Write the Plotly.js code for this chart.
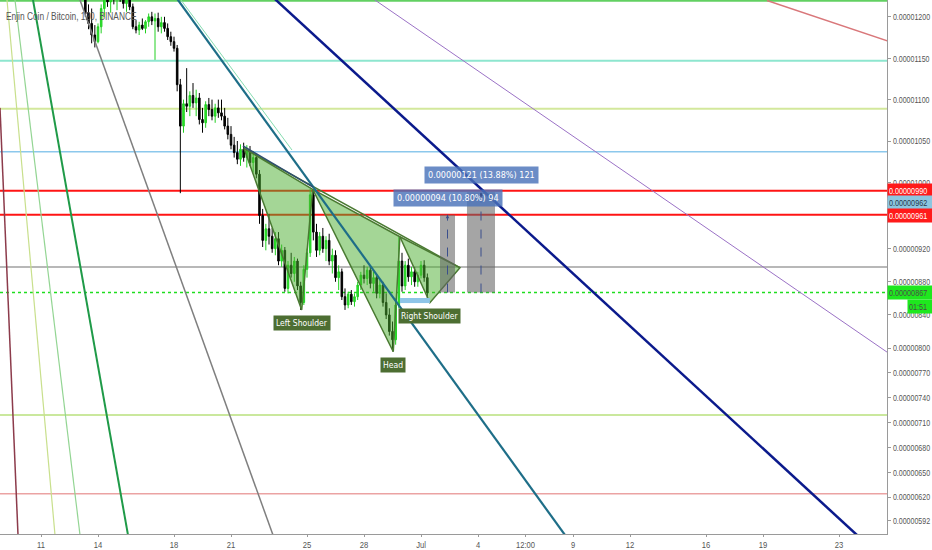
<!DOCTYPE html>
<html><head><meta charset="utf-8">
<script src="https://cdn.plot.ly/plotly-3.0.1.min.js"></script>
<style>html,body{margin:0;padding:0;background:#fff}#chart{width:932px;height:550px}</style>
</head><body><div id="chart"></div>
<script>
// ---------- DATA (prices in satoshi = 1e-8 BTC, x in day-of-June 2018) ----------
const SAT = 1e-8;
const barStartDay = 13 + 1/3;   // first visible 4h bar
const barStepDay = 1/6;         // 4h bars

const openP  = [1225,1205,1192,1178,1170,1188,1210,1225,1218,1228,1222,1230,1224,1216,1226,1212,1188,1184,1190,1186,1194,1200,1195,1198,1188,1193,1186,1176,1170,1162,1118,1068,1095,1092,1105,1096,1102,1076,1072,1094,1088,1080,1090,1084,1080,1068,1058,1045,1036,1028,1040,1030,1038,1024,1030,1010,960,930,944,935,920,932,905,918,872,900,890,905,875,855,895,915,985,940,918,935,920,930,905,912,885,892,862,852,865,856,862,876,888,884,894,878,885,866,876,855,840,820,810,852,905,875,900,886,892,880,888,900,885];
const highP  = [1235,1215,1210,1190,1192,1215,1235,1240,1232,1245,1236,1242,1238,1232,1235,1216,1196,1194,1198,1196,1204,1206,1204,1205,1200,1200,1192,1182,1176,1166,1125,1100,1138,1110,1120,1112,1108,1090,1098,1102,1100,1095,1100,1100,1090,1078,1068,1055,1050,1046,1048,1045,1044,1038,1034,1015,968,950,962,945,940,940,925,922,905,915,910,908,880,900,920,992,990,950,940,945,935,938,920,918,900,896,872,868,870,866,880,892,900,898,900,892,888,882,880,866,848,832,860,934,915,905,908,898,898,892,905,906,890];
const lowP   = [1200,1185,1168,1163,1168,1180,1200,1212,1205,1215,1208,1218,1210,1206,1208,1185,1180,1178,1184,1180,1188,1190,1148,1182,1180,1182,1172,1165,1158,1110,987,1060,1085,1080,1090,1080,1070,1060,1066,1080,1075,1072,1078,1075,1064,1052,1040,1030,1022,1020,1025,1018,1020,1012,1005,950,922,918,925,915,912,900,898,868,866,885,880,870,846,852,885,910,930,910,912,915,905,900,890,880,870,858,846,848,852,850,858,870,878,876,872,868,860,860,850,835,815,796,804,848,868,870,880,876,874,874,884,880,860];
const closeP = [1205,1192,1178,1170,1188,1210,1225,1218,1228,1222,1230,1224,1216,1226,1212,1188,1184,1190,1186,1194,1200,1195,1198,1188,1193,1186,1176,1170,1162,1118,1068,1095,1092,1105,1096,1102,1076,1072,1094,1088,1080,1090,1084,1080,1068,1058,1045,1036,1028,1040,1030,1038,1024,1030,1010,960,930,944,935,920,932,905,918,872,900,890,905,875,855,895,915,985,940,918,935,920,930,905,912,885,892,862,852,865,856,862,876,888,884,894,878,885,866,876,855,840,820,810,852,905,875,900,886,892,880,888,900,885,867];

// horizontal levels (satoshi)
const hLevels = [1219.5, 1147, 1089, 1037, 990, 961, 898, 867, 719, 624];

// trend lines: start/end (day, satoshi)
const lineNames = ['maroon','yellowgreen','lightgreen','darkgreen','gray','teal','navy','purple','salmon','mint','slate'];
const lineX0 = [8.842, 9.182, 9.593, 10.523, 12.939, 17.982, 23.026, 28.12, 49.21, 18.135, 21.63];
const lineY0 = [1090.0, 1227.5, 1227.5, 1227.5, 1227.5, 1227.5, 1227.5, 1227.5, 1219.7, 1227.5, 1044.0];
const lineX1 = [9.803, 11.765, 13.091, 15.635, 23.324, 38.808, 54.290, 55.684, 55.684, 24.21, 25.32];
const lineY1 = [566.9, 566.9, 566.9, 566.9, 566.9, 566.9, 566.9, 792.6, 1169.8, 1039.1, 994.4];

// inverse head & shoulders pattern points (day, satoshi)
const patNames = ['start','leftShoulder','neck1','head','neck2','rightShoulder','end'];
const patX = [21.68, 24.72, 25.30, 29.54, 29.89, 31.47, 33.05];
const patY = [1041.2, 845.9, 991.7, 795.5, 934.4, 854.7, 897.0];

// price-range measurements (from 867)
const measBase = 867;
const measTop = [961, 988];
const measX0 = [32.0, 33.42];
const measX1 = [32.79, 34.895];
const measText = ['0.00000094 (10.80%) 94', '0.00000121 (13.88%) 121'];

// small light-blue zone under right shoulder
const zoneX = [29.89, 31.47];
const zoneY = [854.3, 860.4];

// right-axis price tags
const tagValues = [990, 962, 961, 867];
const tagText = ['0.00000990','0.00000962','0.00000961','0.00000867'];

// axis ticks
const xTickDays = [11,14,18,21,25,28,31,34,36.5,39,42,46,49,53];
const xTickText = ['11','14','18','21','25','28','Jul','4','12:00','9','12','16','19','23'];
const yTicks = [1200,1150,1100,1050,1000,920,880,840,800,770,740,710,680,650,620,592];

// ---------- STYLE ----------
const FONT = "'Liberation Sans Narrow', 'Arial Narrow', 'DejaVu Sans Condensed', sans-serif";
const AX_FONT = "'Liberation Sans', Arial, sans-serif";
const hColors = ['#62d062','#8ee6cf','#d3e89c','#8cc8ec','#ff1414','#ff1414','#a0a0a0','#1fdd1f','#b8e07c','#eba3a3'];
const hWidths = [2,2,2,1.5,2,2,1.5,1.5,1.5,1.5];
const hDash   = ['solid','solid','solid','solid','solid','solid','solid','dot','solid','solid'];
const lineColors = ['#8c3b4b','#c8e08c','#93d593','#1f9a48','#7f7f7f','#1e6e88','#0b1a8c','#9b72c6','#d9777a','#86dcb0','#2f4f6f'];
const lineWidths = [1.5,1.2,1.2,2,1.5,2.2,2.5,1,1.5,1,1.5];

const toP = v => v * SAT;
const barX = openP.map((_, i) => barStartDay + i * barStepDay);

const traces = [];
traces.push({
  type: 'candlestick', x: barX,
  open: openP.map(toP), high: highP.map(toP), low: lowP.map(toP), close: closeP.map(toP),
  increasing: {line: {color: '#22d022', width: 1}, fillcolor: '#2ee82e'},
  decreasing: {line: {color: '#000000', width: 1}, fillcolor: '#000000'},
  whiskerwidth: 0, hoverinfo: 'skip', showlegend: false
});

const tri = [[0,1,2],[2,3,4],[4,5,6]];
tri.forEach(t => {
  const xs = t.map(k => patX[k]); xs.push(patX[t[0]]);
  const ys = t.map(k => toP(patY[k])); ys.push(toP(patY[t[0]]));
  traces.push({type:'scatter', mode:'lines', x: xs, y: ys, fill:'toself',
    fillcolor:'rgba(73,173,46,0.5)', line:{color:'#4a7a32', width:1.5},
    hoverinfo:'skip', showlegend:false});
});
traces.push({type:'scatter', mode:'lines', x:[patX[0], patX[6]], y:[toP(patY[0]), toP(patY[6])],
  line:{color:'#4a7a32', width:1.5}, hoverinfo:'skip', showlegend:false});

lineNames.forEach((n, i) => {
  traces.push({type:'scatter', mode:'lines', name:n,
    x:[lineX0[i], lineX1[i]], y:[toP(lineY0[i]), toP(lineY1[i])],
    line:{color: lineColors[i], width: lineWidths[i]}, hoverinfo:'skip', showlegend:false});
});

const shapes = [];
hLevels.forEach((v, i) => {
  shapes.push({type:'line', xref:'paper', yref:'y', x0:0, x1:1, y0:toP(v), y1:toP(v),
    line:{color:hColors[i], width:hWidths[i], dash:hDash[i]}, layer:'below'});
});
shapes.push({type:'rect', xref:'x', yref:'y', x0:zoneX[0], x1:zoneX[1], y0:toP(zoneY[0]), y1:toP(zoneY[1]),
  fillcolor:'#8ec5e8', line:{width:0}, layer:'above'});
measTop.forEach((t, i) => {
  shapes.push({type:'rect', xref:'x', yref:'y', x0:measX0[i], x1:measX1[i], y0:toP(measBase), y1:toP(t),
    fillcolor:'rgba(100,100,100,0.58)', line:{width:0}, layer:'above'});
  const cx = (measX0[i] + measX1[i]) / 2;
  shapes.push({type:'line', xref:'x', yref:'y', x0:cx, x1:cx, y0:toP(measBase), y1:toP(t),
    line:{color:'#3a4f8c', width:1, dash:'dash'}, layer:'above'});
});

const annotations = [];
const squeezeIdx = [];
squeezeIdx.push(annotations.length);
annotations.push({xref:'paper', yref:'paper', x:0, y:1, xanchor:'left', yanchor:'top', xshift:4, yshift:-8,
  text:'Enjin Coin / Bitcoin, 120, BINANCE', showarrow:false, align:'left',
  font:{family:AX_FONT, size:11, color:'#555'}});

measTop.forEach((t, i) => {
  const cx = (measX0[i] + measX1[i]) / 2;
  annotations.push({x:cx, y:toP(t), xref:'x', yref:'y', showarrow:true, text:'', ax:0, ay:7,
    arrowhead:2, arrowsize:0.7, arrowwidth:1, arrowcolor:'#3a4f8c', standoff:0});
  annotations.push({x:cx, y:toP(t), xref:'x', yref:'y', xanchor:'center', yanchor:'bottom', yshift:8,
    text:measText[i], showarrow:false, bgcolor:'rgba(75,115,185,0.82)', borderpad:3,
    font:{family:FONT, size:9, color:'#ffffff'}});
});

const patLabelIdx = [1, 3, 5];
const patLabelText = ['Left Shoulder', 'Head', 'Right Shoulder'];
patLabelIdx.forEach((k, j) => {
  annotations.push({x:patX[k], y:toP(patY[k]), xref:'x', yref:'y', xanchor:'center', yanchor:'top', yshift:-5,
    text:patLabelText[j], showarrow:false, bgcolor:'#4d6e32', borderpad:2,
    font:{family:FONT, size:8.5, color:'#ffffff'}});
});

const tagBg = ['#ff1a1a','#8cc6e0','#ff1a1a','#1ee81e'];
const tagFg = ['#ffffff','#27384a','#ffffff','#4a4a4a'];
const tagShift = [0, 11, -1, 0];
tagValues.forEach((v, i) => {
  squeezeIdx.push(annotations.length);
  annotations.push({xref:'paper', yref:'y', x:1, y:toP(v), xanchor:'left', yanchor:'middle', yshift:tagShift[i],
    text:tagText[i], showarrow:false, bgcolor:tagBg[i], borderpad:1, width:43, align:'left',
    font:{family:AX_FONT, size:9.5, color:tagFg[i]}});
});
squeezeIdx.push(annotations.length);
annotations.push({xref:'paper', yref:'y', x:1, y:toP(867), xanchor:'left', yanchor:'middle', xshift:20, yshift:-14,
  text:'01:51', showarrow:false, bgcolor:'#1ee81e', borderpad:1, width:23, align:'left',
  font:{family:AX_FONT, size:9.5, color:'#4a4a4a'}});

const layout = {
  width: 932, height: 550,
  margin: {l:0, r:45, t:0, b:16},
  paper_bgcolor:'#ffffff', plot_bgcolor:'#ffffff',
  showlegend:false, hovermode:false,
  xaxis: {range:[8.842, 55.526], tickmode:'array', tickvals:xTickDays, ticktext:xTickText,
    showgrid:false, zeroline:false, showline:true, linecolor:'#9a9a9a', linewidth:1,
    ticks:'outside', ticklen:2, tickcolor:'#9a9a9a',
    tickfont:{family:AX_FONT, size:9.5, color:'#555'}, rangeslider:{visible:false}, fixedrange:true},
  yaxis: {side:'right', range:[toP(575.4), toP(1220.3)], tickmode:'array', tickvals:yTicks.map(toP),
    tickformat:'.8f', showgrid:false, zeroline:false, showline:true, linecolor:'#9a9a9a', linewidth:1,
    ticks:'outside', ticklen:3, tickcolor:'#9a9a9a',
    tickfont:{family:AX_FONT, size:9.5, color:'#555'}, fixedrange:true},
  shapes: shapes, annotations: annotations
};

// condense text horizontally (the reference uses a narrow, squeezed face)
function squeeze(nodes, f) {
  nodes.forEach(t => {
    const w = t.getComputedTextLength();
    if (w > 0) { t.setAttribute('textLength', (w * f).toFixed(1)); t.setAttribute('lengthAdjust', 'spacingAndGlyphs'); }
  });
}

Plotly.newPlot('chart', traces, layout, {displayModeBar:false, staticPlot:true}).then(gd => {
  squeeze(gd.querySelectorAll('.ytick text'), 0.74);
  squeeze(gd.querySelectorAll('.xtick text'), 0.8);
  squeezeIdx.forEach(i => {
    squeeze(gd.querySelectorAll('g.annotation[data-index="' + i + '"] text'), i === 0 ? 0.76 : 0.76);
  });
});
</script></body></html>
